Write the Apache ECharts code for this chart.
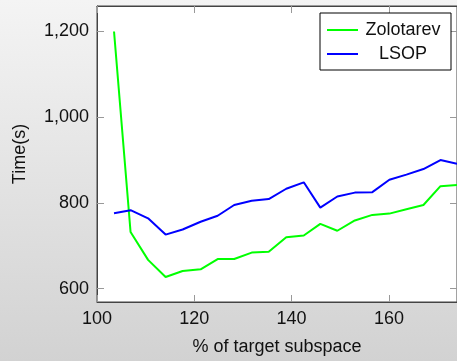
<!DOCTYPE html>
<html>
<head>
<meta charset="utf-8">
<script src="https://cdn.jsdelivr.net/npm/echarts@6/dist/echarts.min.js"></script>
<style>
  html, body { margin: 0; padding: 0; }
  #chart { width: 457px; height: 361px; }
</style>
</head>
<body>
<div id="chart"></div>
<script>
// Size of the target subspace (%) for each run
const subspacePct = [103.5, 106.9, 110.5, 114.1, 117.6, 121.3, 124.8, 128.2, 131.8, 135.3,
                     138.9, 142.5, 145.9, 149.4, 153.0, 156.6, 160.1, 163.6, 167.1, 170.6, 174.0];
// Run times in seconds
const zolotarevTime = [1200, 732, 667, 627, 641, 645, 669, 669, 684, 686,
                       720, 724, 751, 735, 759, 772, 775, 785, 795, 839, 842];
const lsopTime = [776, 783, 764, 726, 738, 756, 770, 795, 805, 809,
                  833, 848, 789, 815, 824, 825, 854, 866, 879, 900, 891];
// Axis tick positions
const xTicks = [100, 120, 140, 160];
const yTicks = [600, 800, 1000, 1200];

const FONT = 'Liberation Sans';
const TEXT = '#111';
const FRAME = '#444';
const TICK = '#999';

const pairs = ys => subspacePct.map((x, i) => [x, ys[i]]);
const fmtThousands = v => Math.round(v).toLocaleString('en-US');

const xRange = { min: 100, max: 174 };
const yRange = { min: 568.7, max: 1259.5 };

function xAxisCfg(pos, withLabels) {
  return {
    type: 'value', position: pos, ...xRange,
    name: withLabels ? '% of target subspace' : '',
    nameLocation: 'middle', nameGap: 36,
    nameTextStyle: { fontFamily: FONT, fontSize: 18, color: TEXT },
    axisLine: { show: true, onZero: false, lineStyle: { color: FRAME, width: 1 } },
    axisTick: { show: true, inside: true, length: 7, customValues: xTicks,
                lineStyle: { color: TICK, width: 1 } },
    axisLabel: { show: withLabels, customValues: xTicks, margin: 8,
                 fontFamily: FONT, fontSize: 18, color: TEXT },
    splitLine: { show: false }
  };
}
function yAxisCfg(pos, withLabels) {
  return {
    type: 'value', position: pos, ...yRange,
    name: withLabels ? 'Time(s)' : '',
    nameLocation: 'middle', nameGap: 68, nameRotate: 90,
    nameTextStyle: { fontFamily: FONT, fontSize: 18, color: TEXT },
    axisLine: { show: true, onZero: false, lineStyle: { color: FRAME, width: 1 } },
    axisTick: { show: true, inside: true, length: 7, customValues: yTicks,
                lineStyle: { color: TICK, width: 1 } },
    axisLabel: { show: withLabels, customValues: yTicks, margin: 8,
                 formatter: fmtThousands,
                 fontFamily: FONT, fontSize: 18, color: TEXT },
    splitLine: { show: false }
  };
}

const chart = echarts.init(document.getElementById('chart'), null, { renderer: 'canvas' });
chart.setOption({
  animation: false,
  backgroundColor: {
    type: 'linear', x: 0, y: 0, x2: 0, y2: 1,
    colorStops: [{ offset: 0, color: '#f4f4f4' }, { offset: 1, color: '#d2d2d2' }]
  },
  grid: {
    left: 97, top: 6, width: 362, height: 302,
    show: true, backgroundColor: '#ffffff', borderColor: FRAME, borderWidth: 1
  },
  xAxis: [xAxisCfg('bottom', true), xAxisCfg('top', false)],
  yAxis: [yAxisCfg('left', true), yAxisCfg('right', false)],
  legend: {
    orient: 'vertical', left: 320, top: 13,
    padding: [5, 8, 4, 7],
    backgroundColor: '#ffffff', borderColor: '#000', borderWidth: 1,
    icon: 'rect', itemWidth: 31, itemHeight: 2, itemGap: 0,
    formatter: '{t|{name}}',
    textStyle: {
      fontFamily: FONT, fontSize: 18, color: TEXT,
      rich: { t: { width: 80, height: 24, lineHeight: 24, align: 'center',
                   fontFamily: FONT, fontSize: 18, color: TEXT } }
    },
    data: ['Zolotarev', 'LSOP']
  },
  series: [
    { name: 'Zolotarev', type: 'line', data: pairs(zolotarevTime), symbol: 'none',
      color: '#00ff00', lineStyle: { width: 2, color: '#00ff00' }, clip: true },
    { name: 'LSOP', type: 'line', data: pairs(lsopTime), symbol: 'none',
      color: '#0000ff', lineStyle: { width: 2, color: '#0000ff' }, clip: true }
  ]
});
</script>
</body>
</html>
